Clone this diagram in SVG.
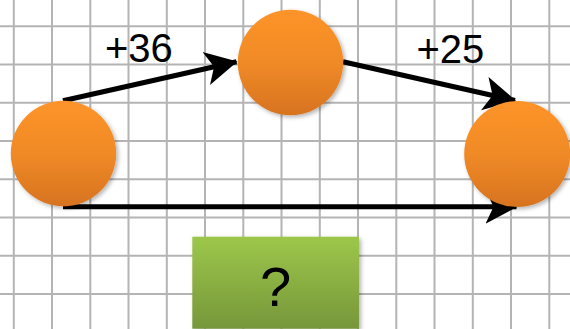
<svg xmlns="http://www.w3.org/2000/svg" width="570" height="329" viewBox="0 0 570 329">
<style>
.grid line{stroke:#b4b4b4;stroke-width:2}
.node{fill:url(#og);filter:url(#sh)}
.conn{stroke:#000;stroke-width:5;fill:none;marker-end:url(#ah)}
.lbl{font-family:"Liberation Sans",Arial,sans-serif;font-size:40px;fill:#000}
</style>
<defs>
<linearGradient id="og" x1="0" y1="0" x2="0" y2="1">
<stop offset="0" stop-color="#fd9429"/>
<stop offset="0.5" stop-color="#f08a27"/>
<stop offset="1" stop-color="#d7731f"/>
</linearGradient>
<linearGradient id="gg" x1="0" y1="0" x2="0" y2="1">
<stop offset="0" stop-color="#9dc74a"/>
<stop offset="1" stop-color="#76973a"/>
</linearGradient>
<filter id="sh" x="-20%" y="-20%" width="140%" height="140%">
<feDropShadow dx="2" dy="2" stdDeviation="2" flood-color="#000" flood-opacity="0.3"/>
</filter>
<marker id="ah" markerWidth="8" markerHeight="8" refX="6.2" refY="4" orient="auto" markerUnits="strokeWidth">
<path d="M0,0.6 L6.4,4 L0,7.4 L1.6,4 Z" fill="#000"/>
</marker>
</defs>
<rect width="570" height="329" fill="#fff"/>
<g class="grid">
<line x1="13.8" y1="0" x2="13.8" y2="329"/>
<line x1="52" y1="0" x2="52" y2="329"/>
<line x1="90.3" y1="0" x2="90.3" y2="329"/>
<line x1="128.5" y1="0" x2="128.5" y2="329"/>
<line x1="166.8" y1="0" x2="166.8" y2="329"/>
<line x1="205" y1="0" x2="205" y2="329"/>
<line x1="243.3" y1="0" x2="243.3" y2="329"/>
<line x1="281.5" y1="0" x2="281.5" y2="329"/>
<line x1="319.8" y1="0" x2="319.8" y2="329"/>
<line x1="358" y1="0" x2="358" y2="329"/>
<line x1="396.3" y1="0" x2="396.3" y2="329"/>
<line x1="434.5" y1="0" x2="434.5" y2="329"/>
<line x1="472.8" y1="0" x2="472.8" y2="329"/>
<line x1="511" y1="0" x2="511" y2="329"/>
<line x1="549.3" y1="0" x2="549.3" y2="329"/>
<line x1="0" y1="26.2" x2="570" y2="26.2"/>
<line x1="0" y1="64.5" x2="570" y2="64.5"/>
<line x1="0" y1="102.7" x2="570" y2="102.7"/>
<line x1="0" y1="141" x2="570" y2="141"/>
<line x1="0" y1="179.2" x2="570" y2="179.2"/>
<line x1="0" y1="217.5" x2="570" y2="217.5"/>
<line x1="0" y1="255.7" x2="570" y2="255.7"/>
<line x1="0" y1="294" x2="570" y2="294"/>
</g>
<g id="connectors">
<line class="conn" x1="63" y1="100.7" x2="236.5" y2="61.7"/>
<line class="conn" x1="343" y1="61.7" x2="515" y2="100.5"/>
<line class="conn" x1="63" y1="206.7" x2="516.5" y2="206.7"/>
<text class="lbl" x="105" y="62">+36</text>
<text class="lbl" x="416.5" y="63">+25</text>
</g>
<g id="node-left"><circle class="node" cx="63.5" cy="153.5" r="52.7"/></g>
<g id="node-top"><circle class="node" cx="290.5" cy="62.5" r="52.7"/></g>
<g id="node-right"><circle class="node" cx="517.2" cy="154" r="53"/></g>
<g id="node-question">
<rect x="192.3" y="236.7" width="166.7" height="92" fill="url(#gg)" filter="url(#sh)"/>
<text x="275.7" y="306" text-anchor="middle" font-family="Liberation Sans,Arial,sans-serif" font-size="56" fill="#000">?</text>
</g>
</svg>
